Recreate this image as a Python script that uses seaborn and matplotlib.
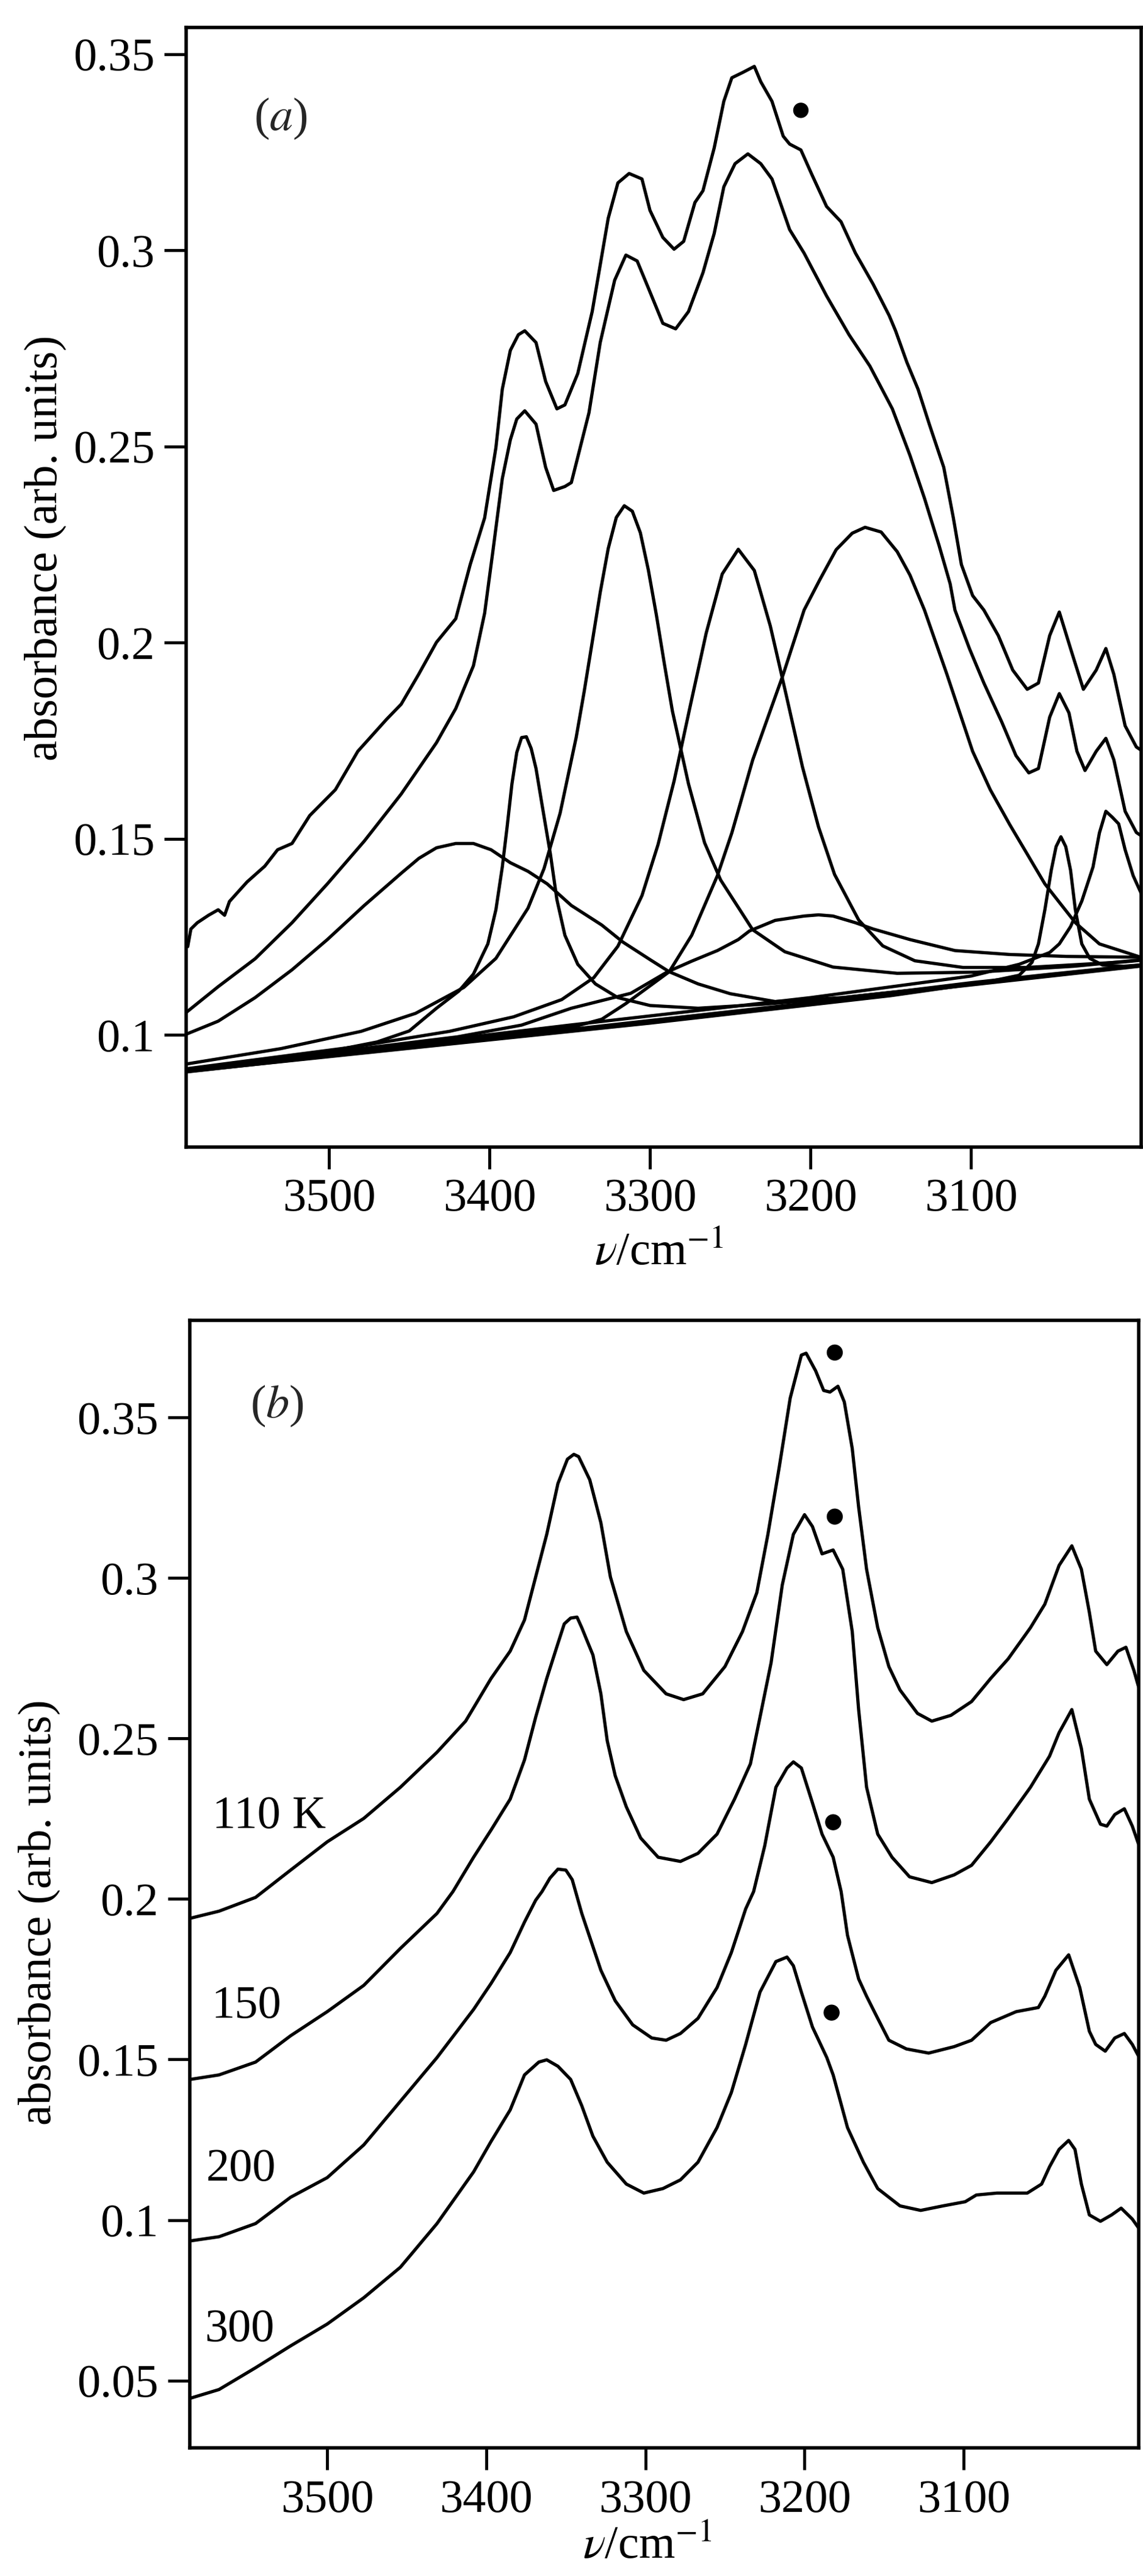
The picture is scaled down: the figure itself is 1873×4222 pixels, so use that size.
import matplotlib
matplotlib.use("Agg")
import matplotlib.pyplot as plt
import seaborn as sns

# ---------------- panel (a) data: wavenumber (cm-1) / absorbance ----------------
A_MEAS_NU = [3588, 3586, 3582, 3575, 3569, 3565, 3562, 3551, 3540, 3532, 3523, 3512, 3496, 3482,
             3464, 3455, 3444, 3433, 3421, 3412, 3403, 3396, 3392, 3387, 3382, 3378, 3371, 3365,
             3358, 3353, 3349, 3345, 3336, 3326, 3320, 3313, 3305, 3300, 3292, 3285, 3279, 3272,
             3267, 3260, 3254, 3249, 3242, 3235, 3231, 3224, 3217, 3213, 3206, 3199, 3190, 3181,
             3172, 3161, 3151, 3147, 3140, 3133, 3126, 3117, 3111, 3106, 3099, 3092, 3083, 3074,
             3065, 3058, 3051, 3045, 3038, 3030, 3022, 3016, 3011, 3004, 2997, 2993]
A_MEAS_VAL = [0.1225, 0.1270, 0.1286, 0.1305, 0.1319, 0.1305, 0.1340, 0.1390, 0.1430, 0.1472,
              0.1488, 0.1559, 0.1625, 0.1723, 0.1805, 0.1843, 0.1920, 0.2001, 0.2061, 0.2199,
              0.2318, 0.2497, 0.2646, 0.2745, 0.2785, 0.2795, 0.2765, 0.2666, 0.2596, 0.2606,
              0.2646, 0.2686, 0.2844, 0.3082, 0.3172, 0.3196, 0.3182, 0.3102, 0.3033, 0.3003,
              0.3023, 0.3122, 0.3152, 0.3261, 0.3380, 0.3440, 0.3454, 0.3469, 0.3430, 0.3380,
              0.3291, 0.3271, 0.3256, 0.3192, 0.3112, 0.3073, 0.2993, 0.2914, 0.2834, 0.2795,
              0.2715, 0.2646, 0.2557, 0.2447, 0.2318, 0.2199, 0.2120, 0.2083, 0.2018, 0.1930,
              0.1881, 0.1897, 0.2018, 0.2078, 0.1985, 0.1881, 0.1930, 0.1985, 0.1919, 0.1788,
              0.1734, 0.1723]

A_SUM_NU = [3589, 3569, 3546, 3523, 3501, 3478, 3455, 3433, 3421, 3410, 3403, 3398, 3392, 3387,
            3383, 3378, 3371, 3365, 3360, 3353, 3349, 3338, 3331, 3322, 3315, 3308, 3301, 3292,
            3284, 3276, 3267, 3260, 3254, 3247, 3239, 3231, 3224, 3213, 3204, 3190, 3176, 3163,
            3149, 3138, 3129, 3120, 3113, 3110, 3101, 3092, 3081, 3072, 3064, 3058, 3051, 3045,
            3039, 3034, 3029, 3022, 3016, 3011, 3004, 2997, 2993]
A_SUM_VAL = [0.1057, 0.1123, 0.1194, 0.1286, 0.1385, 0.1494, 0.1614, 0.1745, 0.1832, 0.1941,
             0.2075, 0.2229, 0.2418, 0.2517, 0.2570, 0.2591, 0.2557, 0.2447, 0.2388, 0.2398,
             0.2408, 0.2586, 0.2765, 0.2924, 0.2988, 0.2973, 0.2904, 0.2814, 0.2800, 0.2844,
             0.2943, 0.3043, 0.3162, 0.3221, 0.3246, 0.3221, 0.3182, 0.3053, 0.2993, 0.2884,
             0.2785, 0.2705, 0.2596, 0.2477, 0.2368, 0.2249, 0.2150, 0.2083, 0.1985, 0.1897,
             0.1799, 0.1712, 0.1668, 0.1679, 0.1810, 0.1870, 0.1821, 0.1723, 0.1674, 0.1723,
             0.1756, 0.1701, 0.1570, 0.1516, 0.1505]

A_BASE_NU = [3590, 2995]
A_BASE_VAL = [0.0905, 0.1175]

A_C1_NU = [3590, 3569, 3546, 3523, 3501, 3478, 3455, 3444, 3433, 3421, 3410, 3399, 3387, 3376,
           3364, 3349, 3330, 3317, 3300, 3288, 3270, 3250, 3222, 3180, 3140, 3100, 3050, 2995]
A_C1_VAL = [0.1000, 0.1035, 0.1095, 0.1166, 0.1243, 0.1330, 0.1412, 0.1450, 0.1477, 0.1488,
            0.1488, 0.1472, 0.1439, 0.1417, 0.1385, 0.1330, 0.1280, 0.1237, 0.1192, 0.1161,
            0.1130, 0.1105, 0.1085, 0.1095, 0.1113, 0.1133, 0.1155, 0.1178]

A_C2_NU = [3590, 3540, 3500, 3470, 3450, 3433, 3419, 3410, 3401, 3396, 3392, 3389, 3386, 3383,
           3380, 3377, 3374, 3371, 3367, 3362, 3358, 3353, 3345, 3334, 3320, 3300, 3270, 3230,
           3180, 3100, 2995]
A_C2_VAL = [0.0910, 0.0935, 0.0958, 0.0982, 0.1010, 0.1068, 0.1112, 0.1155, 0.1232, 0.1319,
            0.1428, 0.1530, 0.1640, 0.1720, 0.1758, 0.1760, 0.1730, 0.1679, 0.1581, 0.1460,
            0.1345, 0.1254, 0.1180, 0.1130, 0.1095, 0.1075, 0.1068, 0.1078, 0.1095, 0.1130,
            0.1176]

A_C3_NU = [3590, 3530, 3480, 3446, 3416, 3396, 3376, 3366, 3356, 3346, 3341, 3336, 3331, 3326,
           3321, 3316, 3311, 3306, 3301, 3296, 3291, 3286, 3276, 3266, 3256, 3236, 3216, 3186,
           3146, 3096, 3036, 2995]
A_C3_VAL = [0.0925, 0.0965, 0.1009, 0.1055, 0.1121, 0.1195, 0.1323, 0.1424, 0.1565, 0.1758,
            0.1875, 0.2001, 0.2128, 0.2240, 0.2319, 0.2349, 0.2335, 0.2280, 0.2185, 0.2070,
            0.1945, 0.1825, 0.1640, 0.1490, 0.1395, 0.1268, 0.1212, 0.1173, 0.1157, 0.1160,
            0.1175, 0.1191]

A_C4_NU = [3590, 3485, 3425, 3385, 3355, 3335, 3320, 3305, 3295, 3285, 3275, 3265, 3255, 3245,
           3235, 3225, 3215, 3205, 3195, 3185, 3170, 3155, 3135, 3105, 3065, 3005, 2995]
A_C4_VAL = [0.0913, 0.0969, 0.1009, 0.1046, 0.1090, 0.1146, 0.1226, 0.1355, 0.1485, 0.1647,
            0.1837, 0.2024, 0.2175, 0.2238, 0.2184, 0.2042, 0.1864, 0.1683, 0.1530, 0.1409,
            0.1293, 0.1227, 0.1189, 0.1172, 0.1172, 0.1186, 0.1190]

A_C5_NU = [3590, 3450, 3400, 3350, 3330, 3315, 3300, 3288, 3274, 3258, 3249, 3236, 3217, 3204,
           3194, 3184, 3174, 3166, 3156, 3146, 3138, 3129, 3115, 3099, 3088, 3076, 3065, 3054,
           3035, 3020, 2995]
A_C5_VAL = [0.0907, 0.0971, 0.0995, 0.1018, 0.1040, 0.1080, 0.1125, 0.1161, 0.1254, 0.1406,
            0.1515, 0.1701, 0.1919, 0.2083, 0.2162, 0.2237, 0.2279, 0.2294, 0.2282, 0.2232,
            0.2172, 0.2083, 0.1919, 0.1723, 0.1625, 0.1537, 0.1461, 0.1385, 0.1286, 0.1232,
            0.1199]

A_C6_NU = [3590, 3500, 3420, 3380, 3349, 3312, 3289, 3274, 3258, 3245, 3238, 3222, 3204, 3195,
           3186, 3172, 3161, 3138, 3110, 3076, 3040, 2995]
A_C6_VAL = [0.0910, 0.0955, 0.0995, 0.1025, 0.1068, 0.1106, 0.1161, 0.1188, 0.1215, 0.1243,
            0.1265, 0.1292, 0.1303, 0.1306, 0.1303, 0.1286, 0.1270, 0.1243, 0.1215, 0.1205,
            0.1200, 0.1198]

A_C7_NU = [3590, 3300, 3150, 3090, 3070, 3062, 3058, 3054, 3050, 3047, 3044, 3041, 3038, 3035,
           3031, 3026, 3018, 3005, 2995]
A_C7_VAL = [0.0906, 0.1030, 0.1100, 0.1135, 0.1152, 0.1185, 0.1232, 0.1319, 0.1420, 0.1480,
            0.1505, 0.1480, 0.1420, 0.1319, 0.1232, 0.1195, 0.1178, 0.1175, 0.1178]

A_C8_NU = [3590, 3350, 3200, 3100, 3070, 3051, 3045, 3038, 3031, 3024, 3020, 3016, 3012, 3008,
           3004, 2999, 2993]
A_C8_VAL = [0.0908, 0.1025, 0.1095, 0.1150, 0.1180, 0.1210, 0.1232, 0.1276, 0.1341, 0.1428,
            0.1515, 0.1570, 0.1555, 0.1538, 0.1472, 0.1406, 0.1352]

A_DOT_NU = [3206]
A_DOT_VAL = [0.3357]

# ---------------- panel (b) data ----------------
B_110_NU = [3586, 3568, 3545, 3523, 3500, 3477, 3454, 3431, 3413, 3397, 3385, 3376, 3369, 3362,
            3355, 3349, 3345, 3342, 3335, 3328, 3322, 3312, 3301, 3287, 3276, 3264, 3250, 3239,
            3230, 3223, 3216, 3209, 3202, 3199, 3193, 3188, 3184, 3179, 3175, 3170, 3166, 3161,
            3154, 3147, 3140, 3129, 3120, 3108, 3095, 3083, 3072, 3058, 3049, 3040, 3032, 3026,
            3021, 3017, 3010, 3003, 2998, 2993, 2990]
B_110_VAL = [0.1940, 0.1962, 0.2005, 0.2090, 0.2178, 0.2251, 0.2348, 0.2457, 0.2554, 0.2687,
             0.2772, 0.2869, 0.3003, 0.3136, 0.3294, 0.3370, 0.3385, 0.3378, 0.3306, 0.3172,
             0.3003, 0.2833, 0.2712, 0.2639, 0.2621, 0.2639, 0.2724, 0.2833, 0.2954, 0.3136,
             0.3342, 0.3560, 0.3694, 0.3700, 0.3645, 0.3584, 0.3579, 0.3597, 0.3548, 0.3403,
             0.3221, 0.3027, 0.2845, 0.2724, 0.2651, 0.2578, 0.2554, 0.2572, 0.2615, 0.2687,
             0.2748, 0.2845, 0.2918, 0.3039, 0.3100, 0.3027, 0.2893, 0.2772, 0.2730, 0.2772,
             0.2784, 0.2712, 0.2660]

B_150_NU = [3586, 3568, 3545, 3523, 3500, 3477, 3454, 3431, 3421, 3408, 3397, 3385, 3376, 3369,
            3362, 3355, 3351, 3347, 3343, 3340, 3333, 3328, 3324, 3319, 3312, 3303, 3292, 3278,
            3267, 3255, 3244, 3234, 3228, 3221, 3214, 3207, 3200, 3195, 3189, 3182, 3176, 3170,
            3166, 3161, 3154, 3145, 3134, 3120, 3106, 3095, 3083, 3072, 3058, 3046, 3040, 3032,
            3026, 3021, 3014, 3010, 3005, 2999, 2994, 2990]
B_150_VAL = [0.1438, 0.1452, 0.1492, 0.1574, 0.1649, 0.1731, 0.1846, 0.1955, 0.2023, 0.2130,
             0.2215, 0.2311, 0.2433, 0.2566, 0.2687, 0.2796, 0.2857, 0.2875, 0.2878, 0.2845,
             0.2760, 0.2639, 0.2493, 0.2384, 0.2287, 0.2190, 0.2130, 0.2117, 0.2142, 0.2202,
             0.2311, 0.2421, 0.2566, 0.2736, 0.2978, 0.3136, 0.3197, 0.3160, 0.3075, 0.3087,
             0.3027, 0.2833, 0.2590, 0.2348, 0.2202, 0.2130, 0.2069, 0.2051, 0.2075, 0.2105,
             0.2178, 0.2251, 0.2348, 0.2445, 0.2518, 0.2590, 0.2469, 0.2311, 0.2233, 0.2227,
             0.2263, 0.2281, 0.2227, 0.2170]

B_200_NU = [3586, 3568, 3545, 3523, 3500, 3477, 3454, 3431, 3408, 3397, 3385, 3376, 3369, 3365,
            3360, 3355, 3350, 3346, 3340, 3328, 3319, 3308, 3296, 3287, 3278, 3267, 3255, 3246,
            3237, 3232, 3225, 3218, 3211, 3207, 3202, 3195, 3189, 3182, 3177, 3173, 3166, 3161,
            3154, 3147, 3136, 3122, 3106, 3095, 3083, 3067, 3053, 3049, 3042, 3034, 3027, 3021,
            3017, 3011, 3005, 2999, 2994, 2990]
B_200_VAL = [0.0935, 0.0948, 0.0989, 0.1071, 0.1132, 0.1234, 0.1370, 0.1506, 0.1656, 0.1737,
             0.1833, 0.1928, 0.1996, 0.2023, 0.2065, 0.2093, 0.2090, 0.2060, 0.1955, 0.1778,
             0.1683, 0.1608, 0.1567, 0.1560, 0.1581, 0.1628, 0.1724, 0.1833, 0.1969, 0.2023,
             0.2166, 0.2348, 0.2408, 0.2427, 0.2408, 0.2299, 0.2202, 0.2130, 0.2023, 0.1887,
             0.1751, 0.1697, 0.1628, 0.1560, 0.1533, 0.1520, 0.1540, 0.1560, 0.1615, 0.1649,
             0.1662, 0.1697, 0.1778, 0.1826, 0.1724, 0.1588, 0.1547, 0.1526, 0.1567, 0.1581,
             0.1547, 0.1510]

B_300_NU = [3586, 3568, 3545, 3523, 3500, 3477, 3454, 3431, 3408, 3397, 3385, 3376, 3367, 3362,
            3355, 3347, 3340, 3333, 3324, 3312, 3301, 3289, 3278, 3267, 3255, 3246, 3237, 3228,
            3218, 3211, 3207, 3202, 3195, 3186, 3182, 3173, 3163, 3154, 3140, 3127, 3113, 3099,
            3092, 3079, 3060, 3051, 3046, 3040, 3034, 3030, 3026, 3021, 3014, 3007, 3001, 2994,
            2990]
B_300_VAL = [0.0445, 0.0472, 0.0540, 0.0608, 0.0676, 0.0758, 0.0853, 0.0989, 0.1150, 0.1245,
             0.1343, 0.1452, 0.1492, 0.1499, 0.1479, 0.1438, 0.1356, 0.1261, 0.1180, 0.1112,
             0.1084, 0.1098, 0.1125, 0.1180, 0.1288, 0.1397, 0.1547, 0.1710, 0.1805, 0.1819,
             0.1792, 0.1710, 0.1601, 0.1506, 0.1452, 0.1288, 0.1180, 0.1098, 0.1044, 0.1030,
             0.1044, 0.1057, 0.1078, 0.1084, 0.1084, 0.1112, 0.1166, 0.1220, 0.1248, 0.1220,
             0.1112, 0.1016, 0.0996, 0.1016, 0.1037, 0.1003, 0.0975]

B_DOT_NU = [3181, 3181, 3182, 3183]
B_DOT_VAL = [0.3702, 0.3191, 0.2239, 0.1646]

B_TEMP_LABELS = ["110 K", "150", "200", "300"]
B_TEMP_NU = [3572, 3573, 3576, 3577]
B_TEMP_VAL = [0.2256, 0.1665, 0.1158, 0.0659]

X_TICKS = [3500, 3400, 3300, 3200, 3100]
X_TICK_LABELS = ["3500", "3400", "3300", "3200", "3100"]
A_Y_TICKS = [0.10, 0.15, 0.20, 0.25, 0.30, 0.35]
A_Y_TICK_LABELS = ["0.1", "0.15", "0.2", "0.25", "0.3", "0.35"]
B_Y_TICKS = [0.05, 0.10, 0.15, 0.20, 0.25, 0.30, 0.35]
B_Y_TICK_LABELS = ["0.05", "0.1", "0.15", "0.2", "0.25", "0.3", "0.35"]

# ---------------- style ----------------
sns.set_theme(style="ticks")
plt.rcParams["font.family"] = ["Liberation Serif", "DejaVu Serif"]
plt.rcParams["mathtext.fontset"] = "stix"

FS = 55
LW = 3.8

fig = plt.figure(figsize=(18.73, 42.22), dpi=100)
fig.patch.set_facecolor("white")
ax_a = fig.add_axes([0.1628, 0.5547, 0.8356, 0.4346])
ax_b = fig.add_axes([0.1660, 0.0497, 0.8302, 0.4377])


def draw(ax, nu, val):
    sns.lineplot(x=nu, y=val, ax=ax, color="black", lw=LW, sort=False,
                 estimator=None, legend=False)


for nu, val in [(A_BASE_NU, A_BASE_VAL), (A_C1_NU, A_C1_VAL), (A_C2_NU, A_C2_VAL),
                (A_C3_NU, A_C3_VAL), (A_C4_NU, A_C4_VAL), (A_C5_NU, A_C5_VAL),
                (A_C6_NU, A_C6_VAL), (A_C7_NU, A_C7_VAL), (A_C8_NU, A_C8_VAL),
                (A_SUM_NU, A_SUM_VAL), (A_MEAS_NU, A_MEAS_VAL)]:
    draw(ax_a, nu, val)

for nu, val in [(B_110_NU, B_110_VAL), (B_150_NU, B_150_VAL),
                (B_200_NU, B_200_VAL), (B_300_NU, B_300_VAL)]:
    draw(ax_b, nu, val)

sns.scatterplot(x=A_DOT_NU, y=A_DOT_VAL, ax=ax_a, color="black", s=330,
                edgecolor="none", legend=False, zorder=5)
sns.scatterplot(x=B_DOT_NU, y=B_DOT_VAL, ax=ax_b, color="black", s=360,
                edgecolor="none", legend=False, zorder=5)

for lab, x, y in zip(B_TEMP_LABELS, B_TEMP_NU, B_TEMP_VAL):
    ax_b.text(x, y, lab, ha="left", va="center", fontsize=FS, color="black")

ax_a.set_xlim(3589, 2994)
ax_a.set_ylim(0.0714, 0.3568)
ax_b.set_xlim(3586.4, 2990)
ax_b.set_ylim(0.029, 0.3802)

for ax, yt, ytl in [(ax_a, A_Y_TICKS, A_Y_TICK_LABELS), (ax_b, B_Y_TICKS, B_Y_TICK_LABELS)]:
    ax.set_facecolor("white")
    ax.grid(False)
    for sp in ax.spines.values():
        sp.set_visible(True)
        sp.set_linewidth(4)
        sp.set_color("black")
    ax.set_xticks(X_TICKS)
    ax.set_xticklabels(X_TICK_LABELS)
    ax.set_yticks(yt)
    ax.set_yticklabels(ytl)
    ax.tick_params(axis="both", which="both", direction="out", length=26, width=3.5,
                   labelsize=FS, pad=11, top=False, right=False, colors="black")
    ax.set_ylabel("absorbance (arb. units)", fontsize=FS, color="black")
    ax.set_xlabel(r"$\nu$/cm$^{-1}$", fontsize=FS, color="black")

ax_a.yaxis.set_label_coords(-0.125, 0.535)
ax_a.xaxis.set_label_coords(0.495, -0.076)
ax_b.yaxis.set_label_coords(-0.136, 0.475)
ax_b.xaxis.set_label_coords(0.482, -0.069)

ax_a.text(0.099, 0.919, r"($\mathit{a}$)", transform=ax_a.transAxes, fontsize=FS,
          ha="center", va="center")
ax_b.text(0.092, 0.924, r"($\mathit{b}$)", transform=ax_b.transAxes, fontsize=FS,
          ha="center", va="center")

fig.savefig("out.png", dpi=100, facecolor="white")
